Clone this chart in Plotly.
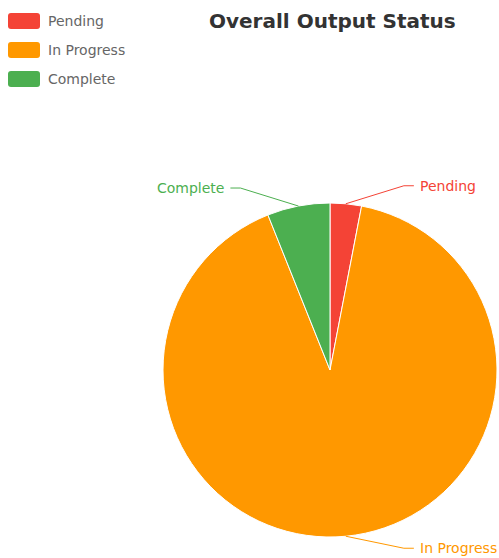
import math
import plotly.graph_objects as go

categories = ["Pending", "In Progress", "Complete"]
values = [1, 30, 2]
colors = ["#F44336", "#FF9800", "#4CAF50"]
title_text = "Overall Output Status"

W, H = 499, 558
cx, cy, r = 330, 370, 167  # pie centre/radius in window px
FONT = "DejaVu Sans"


def px(x):
    return x / W


def py(y):
    return 1 - y / H


fig = go.Figure(go.Pie(
    labels=categories, values=values, sort=False, direction="clockwise", rotation=0,
    marker=dict(colors=colors, line=dict(color="white", width=1)),
    textinfo="none", hoverinfo="label+value+percent", showlegend=False,
    domain=dict(x=[px(cx - r), px(cx + r)], y=[py(cy + r), py(cy - r)]),
))

shapes, annotations = [], []
total = sum(values)
cum = 0
for name, v, col in zip(categories, values, colors):
    mid = (cum + v / 2) / total * 2 * math.pi
    cum += v
    sx, sy = math.sin(mid), -math.cos(mid)
    ex, ey = cx + r * sx, cy + r * sy
    side = 1 if sx >= 0 else -1
    ddx = 58 * side
    ddy = -18 if sy < 0 else 12
    bx, by = ex + ddx, ey + ddy
    hx = bx + 10 * side
    shapes.append(dict(type="path", xref="paper", yref="paper",
                       path=f"M {px(ex)},{py(ey)} L {px(bx)},{py(by)} L {px(hx)},{py(by)}",
                       line=dict(color=col, width=1)))
    annotations.append(dict(x=px(hx + 4 * side), y=py(by), xref="paper", yref="paper",
                            text=name, showarrow=False,
                            xanchor="left" if side > 0 else "right", yanchor="middle",
                            font=dict(size=14, color=col, family=FONT)))

# legend (rounded swatches)
for i, (name, col) in enumerate(zip(categories, colors)):
    y0 = 13 + 29 * i
    x0, x1, y1, rr = 8, 40, y0 + 16, 3
    path = (f"M {px(x0+rr)},{py(y0)} L {px(x1-rr)},{py(y0)} Q {px(x1)},{py(y0)} {px(x1)},{py(y0+rr)} "
            f"L {px(x1)},{py(y1-rr)} Q {px(x1)},{py(y1)} {px(x1-rr)},{py(y1)} "
            f"L {px(x0+rr)},{py(y1)} Q {px(x0)},{py(y1)} {px(x0)},{py(y1-rr)} "
            f"L {px(x0)},{py(y0+rr)} Q {px(x0)},{py(y0)} {px(x0+rr)},{py(y0)} Z")
    shapes.append(dict(type="path", xref="paper", yref="paper", path=path,
                       fillcolor=col, line=dict(color=col, width=0)))
    annotations.append(dict(x=px(46), y=py(y0 + 8), xref="paper", yref="paper",
                            text=name, showarrow=False, xanchor="left", yanchor="middle",
                            font=dict(size=14, color="#666", family=FONT)))

annotations.append(dict(x=px(332), y=py(21), xref="paper", yref="paper",
                        text=f"<b>{title_text}</b>", showarrow=False,
                        xanchor="center", yanchor="middle",
                        font=dict(size=20, color="#333", family=FONT)))

fig.update_layout(width=W, height=H, margin=dict(l=0, r=0, t=0, b=0),
                  paper_bgcolor="white", plot_bgcolor="white",
                  shapes=shapes, annotations=annotations)
fig.write_html("out.html", config={"displayModeBar": False},
               post_script="document.body.style.margin='0';document.body.style.overflow='hidden';")
